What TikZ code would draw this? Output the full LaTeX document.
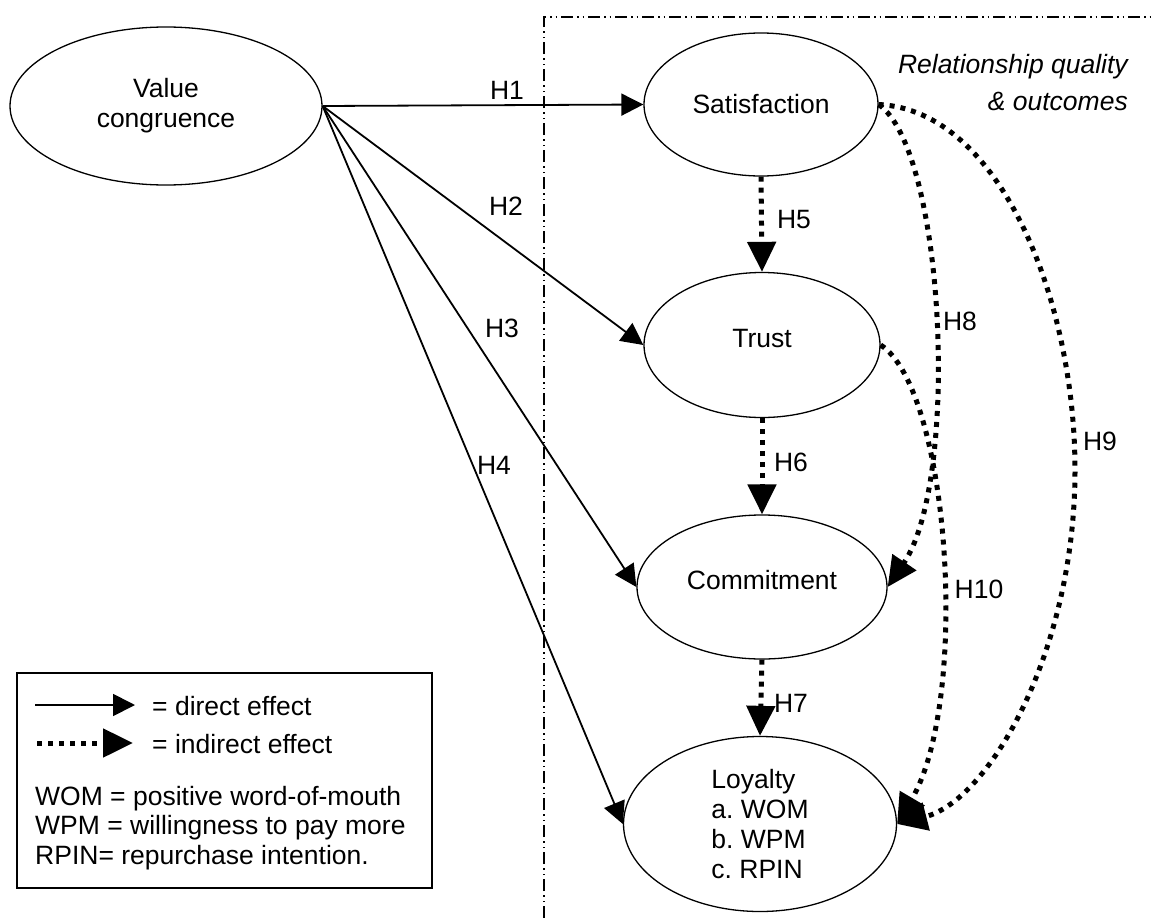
\documentclass[tikz,border=0pt]{standalone}
\usepackage{fontspec}
\setmainfont{Liberation Sans}
\usetikzlibrary{shapes.geometric,arrows.meta}
\frenchspacing

\tikzset{
  construct/.style={draw, ellipse, line width=1.3pt, inner sep=0pt, align=center},
  direct/.style={line width=1.8pt, -{Triangle[length=22pt,width=22pt]}},
  indirect/.style={line width=5pt, dash pattern=on 5pt off 6pt, -{Triangle[length=30pt,width=28pt]}},
  border/.style={line width=1.3pt, dash pattern=on 12pt off 4pt on 1.5pt off 4pt on 1.5pt off 4pt},
  hyp/.style={inner sep=0pt},
  legtext/.style={inner sep=0pt, anchor=base west}
}

\begin{document}
\begin{tikzpicture}[x=1pt, y=-1pt, font=\fontsize{26.5}{30}\selectfont]
  \useasboundingbox (0,0) rectangle (1154,918);

  % Draw the region of relationship quality
  \draw[border] (544,918) -- (544,17) -- (1154,17);
  \node[anchor=base east, font=\fontsize{26.5}{30}\selectfont\itshape, inner sep=0pt] (rq) at (1128,73) {Relationship quality};
  \node[anchor=base east, font=\fontsize{26.5}{30}\selectfont\itshape, inner sep=0pt] (rqout) at (1128,110) {\& outcomes};

  % Draw the constructs
  \node[construct, minimum width=312pt, minimum height=158pt] (value) at (166,106) {Value\\congruence};
  \node[construct, minimum width=234pt, minimum height=143pt] (sat) at (761,104.5) {Satisfaction};
  \node[construct, minimum width=236pt, minimum height=145pt, text depth=14pt] (trust) at (762,345) {Trust};
  \node[construct, minimum width=250pt, minimum height=144pt, text depth=14pt] (commit) at (762,587) {Commitment};
  \node[construct, minimum width=273pt, minimum height=175pt, align=left] (loyal) at (760,824) {Loyalty\\a. WOM\\b. WPM\\c. RPIN};

  % Draw the direct effects
  \draw[direct] (value.east) -- (sat.west);
  \draw[direct] (value.east) -- (trust.west);
  \draw[direct] (value.east) -- (commit.west);
  \draw[direct] (value.east) -- (loyal.west);

  % Draw the indirect effects
  \draw[indirect] (sat.south) -- (trust.north);
  \draw[indirect] (trust.south) -- (commit.north);
  \draw[indirect] (commit.south) -- (loyal.north);
  \draw[indirect] (sat.east) .. controls (945,150) and (960,480) .. (commit.east);
  \draw[indirect] (trust.east) .. controls (950,390) and (970,700) .. (loyal.east);
  \draw[indirect] (sat.east) .. controls (1000,110) and (1075,300) .. (1075,470)
    .. controls (1075,650) and (990,800) .. (loyal.east);

  % Draw the labels for the hypotheses
  \node[hyp] (h1) at (507,90) {H1};
  \node[hyp] (h2) at (506,206) {H2};
  \node[hyp] (h3) at (502,328) {H3};
  \node[hyp] (h4) at (494,465) {H4};
  \node[hyp] (h5) at (794,220) {H5};
  \node[hyp] (h6) at (791,462) {H6};
  \node[hyp] (h7) at (791,703) {H7};
  \node[hyp] (h8) at (960,321) {H8};
  \node[hyp] (h9) at (1100,441) {H9};
  \node[hyp] (h10) at (979,589) {H10};

  % Draw the legend
  \node[draw, line width=1.3pt, minimum width=415pt, minimum height=215pt] (legend) at (224.5,780.5) {};
  \coordinate (dirfrom) at (35,705);
  \coordinate (dirto) at (135,705);
  \coordinate (indfrom) at (37,743);
  \coordinate (indto) at (133,743);
  \draw[direct] (dirfrom) -- (dirto);
  \draw[indirect] (indfrom) -- (indto);
  \node[legtext] (legdir) at (152,715) {= direct effect};
  \node[legtext] (legind) at (152,753) {= indirect effect};
  \node[legtext] (legwom) at (35,805) {WOM = positive word-of-mouth};
  \node[legtext] (legwpm) at (35,834) {WPM = willingness to pay more};
  \node[legtext] (legrpin) at (35,864) {RPIN= repurchase intention.};
\end{tikzpicture}
\end{document}
